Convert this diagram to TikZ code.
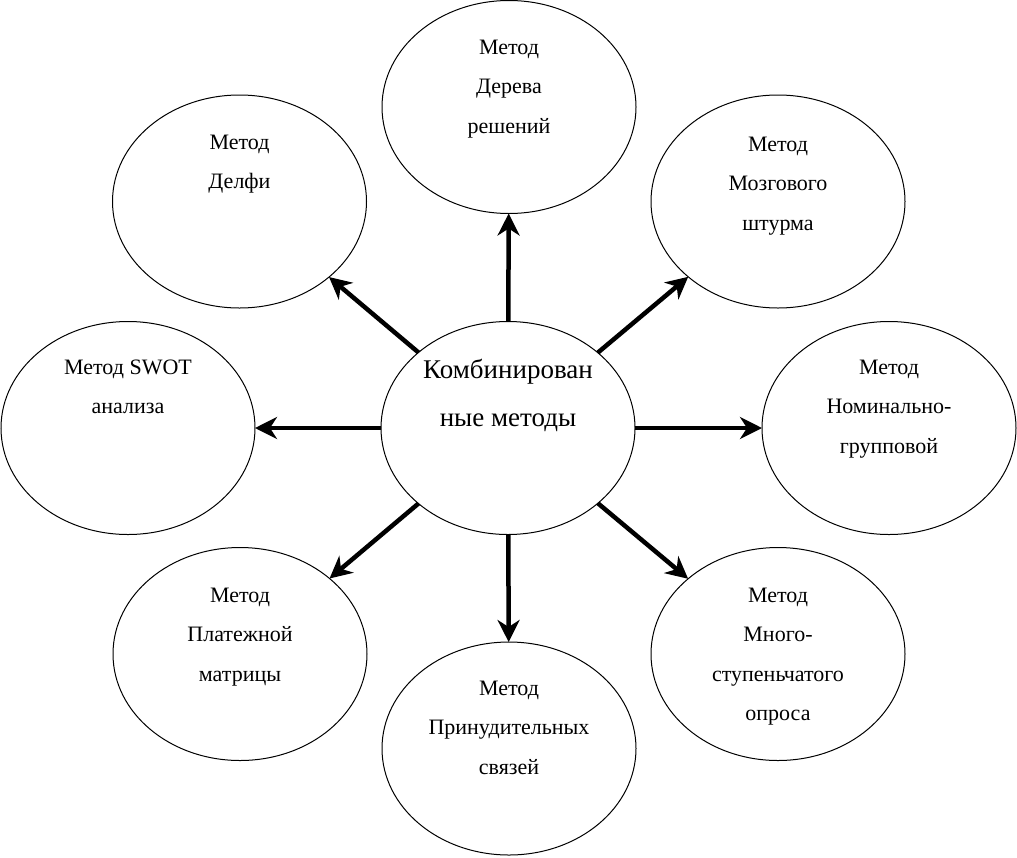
\documentclass[tikz,border=0pt]{standalone}
\usepackage{fontspec}
\setmainfont{Liberation Serif}
\usetikzlibrary{arrows.meta,shapes.geometric}
\begin{document}
\begin{tikzpicture}[x=1pt,y=-1pt,
  oval/.style={draw=black, line width=1pt, ellipse, minimum width=254pt, minimum height=213pt, inner sep=0pt, outer sep=0pt},
  lbl/.style={anchor=base, inner sep=0pt, font=\fontsize{22}{39.5}\selectfont},
  clbl/.style={anchor=base, inner sep=0pt, font=\fontsize{27}{48}\selectfont},
  conn/.style={line width=4.5pt, -{Stealth[length=22pt,width=22pt,inset=7pt]}, shorten <=0pt}
]
\useasboundingbox (0,0) rectangle (1017,857);
% ellipses
\node[oval] (c) at (508,428) {};
\node[oval] (top) at (509,107) {};
\node[oval] (delfi) at (239.5,201.5) {};
\node[oval] (mozg) at (778,201.5) {};
\node[oval] (swot) at (128,428) {};
\node[oval] (nom) at (889,428) {};
\node[oval] (plat) at (240,654) {};
\node[oval] (mnogo) at (778,654) {};
\node[oval] (prin) at (509,748.5) {};
% texts
\node[clbl] (tc) at (508,378) {\begin{tabular}[t]{@{}c@{}}Комбинирован\\ные методы\end{tabular}};
\node[lbl] (ttop) at (509,54) {\begin{tabular}[t]{@{}c@{}}Метод\\Дерева\\решений\end{tabular}};
\node[lbl] (tdelfi) at (239.5,149) {\begin{tabular}[t]{@{}c@{}}Метод\\Делфи\end{tabular}};
\node[lbl] (tmozg) at (778,151) {\begin{tabular}[t]{@{}c@{}}Метод\\Мозгового\\штурма\end{tabular}};
\node[lbl] (tswot) at (128,374) {\begin{tabular}[t]{@{}c@{}}Метод SWOT\\анализа\end{tabular}};
\node[lbl] (tnom) at (889,374) {\begin{tabular}[t]{@{}c@{}}Метод\\Номинально-\\групповой\end{tabular}};
\node[lbl] (tplat) at (240,602) {\begin{tabular}[t]{@{}c@{}}Метод\\Платежной\\матрицы\end{tabular}};
\node[lbl] (tmnogo) at (778,602) {\begin{tabular}[t]{@{}c@{}}Метод\\Много-\\ступеньчатого\\опроса\end{tabular}};
\node[lbl] (tprin) at (509,695) {\begin{tabular}[t]{@{}c@{}}Метод\\Принудительных\\связей\end{tabular}};
% connectors
\draw[conn] (c) -- (top);
\draw[conn] (c) -- (delfi);
\draw[conn] (c) -- (mozg);
\draw[conn] (c) -- (swot);
\draw[conn] (c) -- (nom);
\draw[conn] (c) -- (plat);
\draw[conn] (c) -- (mnogo);
\draw[conn] (c) -- (prin);
\end{tikzpicture}
\end{document}
